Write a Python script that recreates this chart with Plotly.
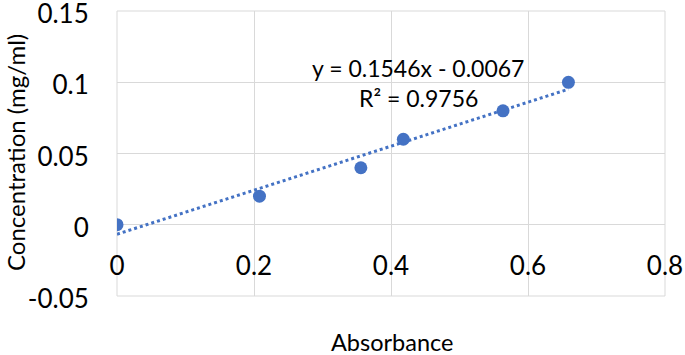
import plotly.graph_objects as go

# Data
absorbance = [0.0, 0.208, 0.356, 0.418, 0.5635, 0.659]
concentration = [0.0, 0.02, 0.04, 0.06, 0.08, 0.10]
slope = 0.1546
intercept = -0.0067
r_squared = 0.9756

x_tickvals = [0, 0.2, 0.4, 0.6, 0.8]
x_ticktext = ["0", "0.2", "0.4", "0.6", "0.8"]
y_tickvals = [-0.05, 0, 0.05, 0.1, 0.15]
y_ticktext = ["-0.05", "0", "0.05", "0.1", "0.15"]

blue = "#4472C4"
grid = "#d9d9d9"
font_family = "Lato, Carlito, Calibri, sans-serif"

trend_x = [min(absorbance), max(absorbance)]
trend_y = [slope * v + intercept for v in trend_x]

fig = go.Figure()
fig.add_trace(go.Scatter(x=trend_x, y=trend_y, mode="lines",
                         line=dict(color=blue, width=3, dash="dot"),
                         hoverinfo="skip", showlegend=False))
fig.add_trace(go.Scatter(x=absorbance, y=concentration, mode="markers",
                         marker=dict(color=blue, size=13),
                         showlegend=False))

W, H = 685, 355
L, R, T, B = 117, 20, 11, 59
pw, ph = W - L - R, H - T - B

fig.update_layout(
    width=W, height=H,
    margin=dict(l=L, r=R, t=T, b=B, autoexpand=False),
    paper_bgcolor="white", plot_bgcolor="white",
    font=dict(family=font_family, size=26, color="#000000"),
    showlegend=False,
)
fig.update_xaxes(range=[0, 0.8], tickvals=x_tickvals, ticktext=x_ticktext,
                 showgrid=True, gridcolor=grid, gridwidth=1, zeroline=False,
                 showline=False, anchor="free", position=0.25, automargin=False,
                 ticks="outside", ticklen=18, tickcolor="rgba(0,0,0,0)",
                 ticklabeloverflow="allow")
fig.update_yaxes(range=[-0.0501, 0.1501], tickvals=y_tickvals, ticktext=y_ticktext,
                 showgrid=True, gridcolor=grid, gridwidth=1, zeroline=False,
                 showline=False, ticks="outside", ticklen=22, automargin=False,
                 tickcolor="rgba(0,0,0,0)", ticklabeloverflow="allow",
                 ticklabelshift=3)

fig.add_shape(type="rect", xref="x domain", yref="y domain", x0=0, x1=1, y0=0, y1=1,
              line=dict(color=grid, width=1), layer="below")

def px_to_paper(xp, yp):
    return (xp - L) / pw, 1 - (yp - T) / ph

ax, ay = px_to_paper(418, 68)
fig.add_annotation(text=f"y = {slope}x - {abs(intercept)}", x=ax, y=ay,
                   xref="paper", yref="paper", showarrow=False,
                   xanchor="center", yanchor="middle", font=dict(size=23))
ax, ay = px_to_paper(418, 98)
fig.add_annotation(text=f"R² = {r_squared}", x=ax, y=ay,
                   xref="paper", yref="paper", showarrow=False,
                   xanchor="center", yanchor="middle", font=dict(size=23))
ax, ay = px_to_paper(392, 342)
fig.add_annotation(text="Absorbance", xref="paper", yref="paper",
                   x=ax, y=ay, showarrow=False, xanchor="center",
                   yanchor="middle", font=dict(size=23.5))
ax, ay = px_to_paper(15, 153)
fig.add_annotation(text="Concentration (mg/ml)", xref="paper", yref="paper",
                   x=ax, y=ay, showarrow=False, textangle=-90,
                   xanchor="center", yanchor="middle", font=dict(size=24))

fig.write_html("out.html")
